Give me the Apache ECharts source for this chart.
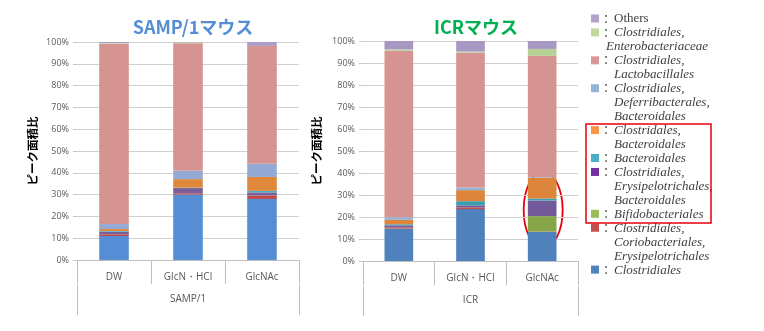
<!DOCTYPE html>
<html><head><meta charset="utf-8">
<script src="https://cdn.jsdelivr.net/npm/echarts@6/dist/echarts.min.js"></script>
<style>html,body{margin:0;padding:0;background:#fff}#c{width:764px;height:331px}</style>
</head><body><div id="c"></div>
<script>
// ---- data ----
const categories = ['DW', 'GlcN・HCl', 'GlcNAc'];
const groupLeft = ['SAMP/1'];
const groupRight = ['ICR'];
const seriesNames = [
  'Clostridiales',
  'Clostridiales, Coriobacteriales, Erysipelotrichales',
  'Bifidobacteriales',
  'Clostridiales, Erysipelotrichales, Bacteroidales',
  'Bacteroidales',
  'Clostridales, Bacteroidales',
  'Clostridiales, Deferribacterales, Bacteroidales',
  'Clostridiales, Lactobacillales',
  'Clostridiales, Enterobacteriaceae',
  'Others'
];
// SAMP/1 (% of peak area), bottom to top
const sampBlue      = [11.0, 30.0, 28.0];
const sampRed       = [0.8, 0.6, 1.6];
const sampGreen     = [0, 0, 0];
const sampPurple    = [1.2, 2.4, 1.4];
const sampTeal      = [0.3, 0.2, 0.7];
const sampOrange    = [0.9, 3.9, 6.4];
const sampLightBlue = [2.3, 3.8, 6.0];
const sampPink      = [82.7, 58.5, 54.1];
const sampLightGreen= [0.3, 0.4, 0];
const sampOthers    = [0.5, 0.2, 1.8];
// ICR
const icrBlue      = [14.7, 23.6, 13.2];
const icrRed       = [0.6, 0.8, 0.2];
const icrGreen     = [0, 0, 7.0];
const icrPurple    = [0.9, 0.9, 7.1];
const icrTeal      = [0.5, 1.9, 0.9];
const icrOrange    = [2.0, 5.0, 9.5];
const icrLightBlue = [1.2, 1.2, 0.3];
const icrPink      = [75.7, 61.3, 55.0];
const icrLightGreen= [0.6, 0.5, 3.2];
const icrOthers    = [3.8, 4.8, 3.6];
const yTicks = [0, 10, 20, 30, 40, 50, 60, 70, 80, 90, 100];

// legend (top to bottom)
const legendLines = [
  ['Others'],
  ['Clostridiales,', 'Enterobacteriaceae'],
  ['Clostridiales,', 'Lactobacillales'],
  ['Clostridiales,', 'Deferribacterales,', 'Bacteroidales'],
  ['Clostridales,', 'Bacteroidales'],
  ['Bacteroidales'],
  ['Clostridiales,', 'Erysipelotrichales,', 'Bacteroidales'],
  ['Bifidobacteriales'],
  ['Clostridiales,', 'Coriobacteriales,', 'Erysipelotrichales'],
  ['Clostridiales']
];
const legendColors = ['#B2A2C7','#C3D69B','#DA9694','#95B3D7','#F79646','#4BACC6','#7030A0','#9BBB59','#C0504D','#4F81BD'];

// ---- styles ----
const leftColors  = ['#558ED5','#BE4B48','#9BBB59','#7A5F98','#4BACC6','#E0883C','#94AAD4','#D59391','#C3D69B','#AB9CC8'];
const rightColors = ['#4F81BD','#C0504D','#87A64A','#725A9A','#3E9FB3','#DC853B','#95B3D7','#D59391','#B7D196','#A798C3'];
const sampData = [sampBlue, sampRed, sampGreen, sampPurple, sampTeal, sampOrange, sampLightBlue, sampPink, sampLightGreen, sampOthers];
const icrData  = [icrBlue, icrRed, icrGreen, icrPurple, icrTeal, icrOrange, icrLightBlue, icrPink, icrLightGreen, icrOthers];

const axisGray = '#bfbfbf';
const labelGray = '#595959';

function catAxis(gridIndex) {
  return {
    type: 'category', gridIndex, data: categories, position: 'bottom',
    axisLine: { show: true, lineStyle: { color: axisGray, width: 1 } },
    axisTick: { show: true, interval: 0, length: 24, lineStyle: { color: axisGray } },
    axisLabel: { interval: 0, margin: 12, fontSize: 10, color: labelGray, fontFamily: 'Open Sans' },
    splitLine: { show: false }
  };
}
function groupAxis(gridIndex, data) {
  return {
    type: 'category', gridIndex, data, position: 'bottom', offset: 25,
    axisLine: { show: false },
    axisTick: { show: true, interval: 0, length: 30, lineStyle: { color: axisGray } },
    axisLabel: { interval: 0, margin: 9, fontSize: 10, color: labelGray, fontFamily: 'Open Sans' },
    splitLine: { show: false }
  };
}
function valAxis(gridIndex, gap) {
  return {
    type: 'value', gridIndex, min: yTicks[0], max: yTicks[yTicks.length - 1], interval: yTicks[1] - yTicks[0],
    name: 'ピーク面積比', nameLocation: 'middle', nameGap: gap, nameRotate: 90,
    nameTextStyle: { fontSize: 11.5, fontWeight: 'bold', color: '#000', fontFamily: 'Noto Sans CJK JP' },
    axisLine: { show: false },
    axisTick: { show: true, length: 4, lineStyle: { color: '#c8c8c8' } },
    axisLabel: { formatter: '{value}%', fontSize: 9, color: labelGray, margin: 8, fontFamily: 'Open Sans' },
    splitLine: { show: true, lineStyle: { color: '#d0d0d0', width: 1 } }
  };
}

const series = [];
seriesNames.forEach((n, i) => {
  series.push({
    name: n, type: 'bar', stack: 'L', xAxisIndex: 0, yAxisIndex: 0, barWidth: '40%',
    data: sampData[i], itemStyle: { color: leftColors[i] },
    emphasis: { disabled: true }
  });
});
seriesNames.forEach((n, i) => {
  series.push({
    name: n, type: 'bar', stack: 'R', xAxisIndex: 2, yAxisIndex: 1, barWidth: '40%',
    data: icrData[i], itemStyle: { color: rightColors[i] },
    emphasis: { disabled: true }
  });
});

// legend graphics
const graphics = [];
const lx = 591, lineStep = 13.95;
let row = 0;
legendLines.forEach((lines, i) => {
  lines.forEach((t, j) => {
    const y = 19 + row * lineStep;
    if (j === 0) {
      graphics.push({ type: 'rect', shape: { x: lx, y: y - 4.5, width: 8, height: 8 }, style: { fill: legendColors[i] } });
      graphics.push({ type: 'text', x: 606, y: y, style: { text: '：', fontSize: 12, fill: '#404040', align: 'center', verticalAlign: 'middle', fontFamily: 'Noto Sans CJK JP' } });
    }
    const italic = t !== 'Others';
    const x = (i === 1 && j === 1) ? 606 : 614;
    graphics.push({ type: 'text', x: x, y: y, style: { text: t, fontSize: 13, fontStyle: italic ? 'italic' : 'normal', fill: '#404040', verticalAlign: 'middle', fontFamily: 'Liberation Serif' } });
    row++;
  });
});
// red highlight box around legend entries
graphics.push({ type: 'rect', shape: { x: 586, y: 124, width: 125, height: 99 }, style: { fill: 'none', stroke: '#E8000B', lineWidth: 1.5 } });

const option = {
  animation: false,
  backgroundColor: '#fff',
  title: [
    { text: 'SAMP/1マウス', left: 188, top: 13, textAlign: 'center', textStyle: { fontSize: 18, fontWeight: 'bold', color: '#558ED5', fontFamily: 'Noto Sans CJK JP' } },
    { text: 'ICRマウス', left: 471, top: 13, textAlign: 'center', textStyle: { fontSize: 18, fontWeight: 'bold', color: '#00B050', fontFamily: 'Noto Sans CJK JP' } }
  ],
  grid: [
    { left: 77, right: 465, top: 42, bottom: 71, containLabel: false },
    { left: 363, right: 186, top: 41, bottom: 70, containLabel: false }
  ],
  xAxis: [catAxis(0), groupAxis(0, groupLeft), catAxis(1), groupAxis(1, groupRight)],
  yAxis: [valAxis(0, 39), valAxis(1, 41)],
  series,
  graphic: graphics
};

const chart = echarts.init(document.getElementById('c'), null, { renderer: 'canvas' });
chart.setOption(option);
// red ellipse annotation around GlcNAc bar of ICR
const ctr = chart.convertToPixel({ xAxisIndex: 2, yAxisIndex: 1 }, ['GlcNAc', 23.2]);
const upper = chart.convertToPixel({ xAxisIndex: 2, yAxisIndex: 1 }, ['GlcNAc', 40.6]);
const ry = ctr[1] - upper[1];
graphics.push({ type: 'ellipse', shape: { cx: ctr[0] + 1, cy: ctr[1], rx: 19.5, ry: ry }, style: { fill: 'none', stroke: '#E8000B', lineWidth: 1.8 } });
chart.setOption({ graphic: graphics });
</script>
</body></html>
